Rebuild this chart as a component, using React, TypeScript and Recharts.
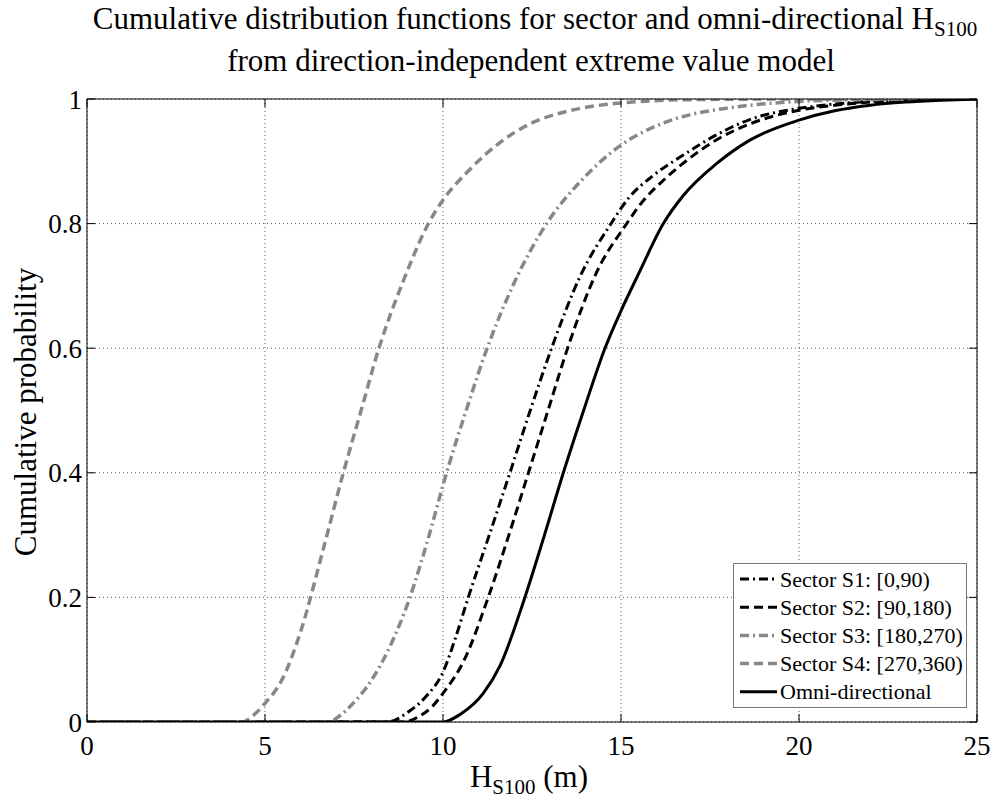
import { LineChart, Line, XAxis, YAxis, CartesianGrid, Legend } from "recharts";

const WIDTH = 995;
const HEIGHT = 801;
const FONT = "'Liberation Serif', 'DejaVu Serif', serif";

const xTicks = [0, 5, 10, 15, 20, 25];
const yTicks = [0, 0.2, 0.4, 0.6, 0.8, 1];

// Sector S1: [0,90)
const s1X = [0, 8.42, 9.07, 9.54, 10, 10.35, 10.71, 11.3, 11.88, 12.45, 13.05, 13.85, 14.72, 15.2, 15.9, 16.75, 17.7, 18.62, 20, 21, 22, 23, 25];
const s1Y = [0, 0, 0.018, 0.042, 0.08, 0.135, 0.2, 0.3, 0.4, 0.5, 0.6, 0.715, 0.8, 0.84, 0.877, 0.91, 0.943, 0.967, 0.985, 0.992, 0.996, 0.998, 1];

// Sector S2: [90,180)
const s2X = [0, 8.9, 9.3, 9.7, 10, 10.6, 11.27, 11.85, 12.4, 12.95, 13.5, 14.3, 15.16, 15.6, 16.2, 16.75, 17.7, 18.62, 20, 21, 22, 23, 25];
const s2Y = [0, 0, 0.008, 0.025, 0.046, 0.1, 0.2, 0.3, 0.4, 0.5, 0.6, 0.72, 0.8, 0.835, 0.87, 0.897, 0.935, 0.96, 0.982, 0.99, 0.995, 0.998, 1];

// Sector S3: [180,270)
const s3X = [0, 6.78, 7.1, 7.39, 8, 8.5, 9.07, 9.56, 10.1, 10.65, 11.24, 12, 12.91, 13.9, 15, 16, 16.75, 17.7, 18.62, 20, 22, 25];
const s3Y = [0, 0, 0.01, 0.025, 0.068, 0.12, 0.2, 0.29, 0.4, 0.5, 0.6, 0.705, 0.8, 0.87, 0.926, 0.957, 0.972, 0.983, 0.99, 0.996, 0.999, 1];

// Sector S4: [270,360)
const s4X = [0, 4.35, 4.7, 5, 5.47, 6, 6.63, 7.2, 7.7, 8.2, 8.9, 9.59, 10, 10.67, 11.6, 12.44, 13.47, 14.88, 17, 20, 25];
const s4Y = [0, 0, 0.012, 0.03, 0.067, 0.145, 0.276, 0.4, 0.5, 0.6, 0.71, 0.8, 0.838, 0.882, 0.93, 0.96, 0.98, 0.993, 0.999, 1, 1];

// Omni-directional
const omniX = [0, 10, 10.5, 11.13, 11.6, 12.3, 12.85, 13.38, 13.95, 14.55, 15, 15.5, 16.19, 16.75, 17.7, 18.62, 20, 21, 22, 23, 24, 25];
const omniY = [0, 0, 0.013, 0.046, 0.09, 0.2, 0.3, 0.4, 0.5, 0.6, 0.66, 0.72, 0.8, 0.845, 0.897, 0.934, 0.966, 0.981, 0.99, 0.995, 0.998, 1];

const seriesNames = [
  "Sector S1: [0,90)",
  "Sector S2: [90,180)",
  "Sector S3: [180,270)",
  "Sector S4: [270,360)",
  "Omni-directional",
];

const toPoints = (xs: number[], ys: number[]) => xs.map((x, i) => ({ x, y: ys[i] }));

const GRAY = "#888888";

const series = [
  { name: seriesNames[0], data: toPoints(s1X, s1Y), color: "#000", dash: "9 4 2 4", width: 3 },
  { name: seriesNames[1], data: toPoints(s2X, s2Y), color: "#000", dash: "9 5", width: 3 },
  { name: seriesNames[2], data: toPoints(s3X, s3Y), color: GRAY, dash: "9 4 2 4", width: 3.5 },
  { name: seriesNames[3], data: toPoints(s4X, s4Y), color: GRAY, dash: "9 5", width: 3.5 },
  { name: seriesNames[4], data: toPoints(omniX, omniY), color: "#000", dash: undefined, width: 3 },
];

const LegendBox = () => (
  <svg width={234} height={145} style={{ display: "block", fontFamily: FONT }}>
    <rect x={0.5} y={0.5} width={233} height={144} fill="#fff" stroke="#777" />
    {series.map((s, i) => {
      const cy = 16 + i * 28.2;
      return (
        <g key={s.name}>
          <line x1={7} x2={44} y1={cy} y2={cy} stroke={s.color} strokeWidth={s.width} strokeDasharray={s.dash} />
          <text x={47} y={cy} dominantBaseline="central" style={{ fontFamily: FONT, fontSize: 22 }} fill="#000">
            {s.name}
          </text>
        </g>
      );
    })}
  </svg>
);

const tickStyle = { fill: "#000", fontSize: 27, style: { fontFamily: FONT } };
const blank = () => "";

export default function App() {
  return (
    <div
      style={{
        position: "absolute",
        left: 0,
        top: 0,
        width: WIDTH,
        height: HEIGHT,
        background: "#fff",
        fontFamily: FONT,
      }}
    >
      <LineChart
        width={WIDTH}
        height={HEIGHT}
        margin={{ top: 89, right: 8, bottom: 29, left: 27 }}
        style={{ fontFamily: FONT }}
      >
        <CartesianGrid stroke="#555" strokeDasharray="1 3" strokeWidth={1} />
        <XAxis
          type="number"
          dataKey="x"
          domain={[0, 25]}
          ticks={xTicks}
          height={50}
          tickSize={-8}
          tickMargin={22}
          tick={tickStyle}
          stroke="#000"
          allowDataOverflow
        />
        <XAxis
          xAxisId="top"
          orientation="top"
          type="number"
          dataKey="x"
          domain={[0, 25]}
          ticks={xTicks}
          height={10}
          tickSize={-8}
          tickFormatter={blank}
          stroke="#000"
          allowDataOverflow
        />
        <YAxis
          type="number"
          domain={[0, 1]}
          ticks={yTicks}
          width={60}
          tickSize={-8}
          tickMargin={13}
          tick={tickStyle}
          stroke="#000"
          allowDataOverflow
        />
        <YAxis
          yAxisId="right"
          orientation="right"
          type="number"
          domain={[0, 1]}
          ticks={yTicks}
          width={10}
          tickSize={-8}
          tickFormatter={blank}
          stroke="#000"
          allowDataOverflow
        />
        <Legend
          layout="vertical"
          align="center"
          verticalAlign="middle"
          content={LegendBox}
          wrapperStyle={{ position: "absolute", left: 733, top: 563, width: 234, height: 145 }}
        />
        {series.map((s) => (
          <Line
            key={s.name}
            name={s.name}
            data={s.data}
            dataKey="y"
            type="monotone"
            stroke={s.color}
            strokeWidth={s.width}
            strokeDasharray={s.dash}
            dot={false}
            activeDot={false}
            isAnimationActive={false}
          />
        ))}
      </LineChart>
      <svg
        width={WIDTH}
        height={HEIGHT}
        style={{ position: "absolute", left: 0, top: 0, pointerEvents: "none", fontFamily: FONT }}
        fill="#000"
      >
        <text x={535} y={29} textAnchor="middle" fontSize={31}>
          Cumulative distribution functions for sector and omni-directional H
          <tspan fontSize={21} dy={7}>S100</tspan>
        </text>
        <text x={531} y={71} textAnchor="middle" fontSize={31}>
          from direction-independent extreme value model
        </text>
        <text x={529} y={787} textAnchor="middle" fontSize={31}>
          H
          <tspan fontSize={21} dy={7}>S100</tspan>
          <tspan dy={-7}> (m)</tspan>
        </text>
        <text transform="translate(36,412) rotate(-90)" textAnchor="middle" fontSize={31}>
          Cumulative probability
        </text>
      </svg>
    </div>
  );
}
